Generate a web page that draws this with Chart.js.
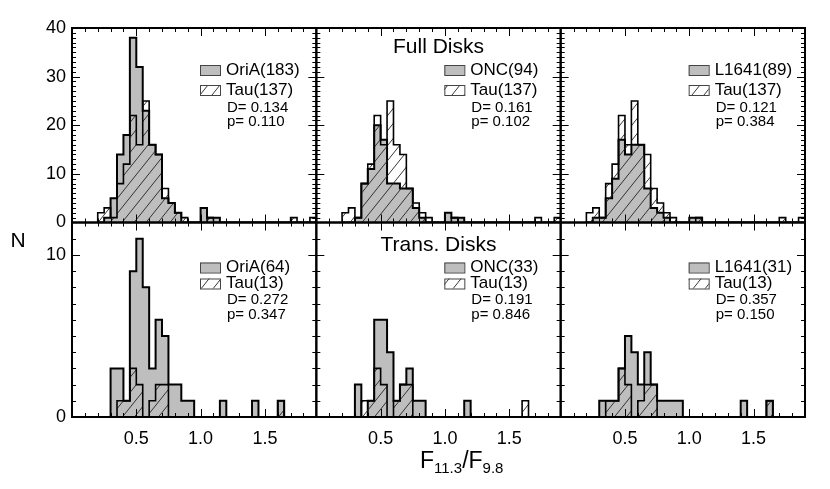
<!DOCTYPE html>
<html>
<head>
<meta charset="utf-8">
<script src="https://cdn.jsdelivr.net/npm/chart.js@4.4.1/dist/chart.umd.min.js"></script>
<style>
html,body{margin:0;padding:0;background:#fff;}
#wrap{position:relative;width:830px;height:489px;}
canvas{display:block;}
</style>
</head>
<body>
<div id="wrap"><canvas id="c" width="830" height="489"></canvas></div>
<script>
// ---------------- DATA ----------------
// left edges of histogram bins (bin width 0.05) in F11.3/F9.8
const binLeft = [0.20,0.25,0.30,0.35,0.40,0.45,0.50,0.55,0.60,0.65,0.70,0.75,0.80,0.85,0.90,0.95,
                 1.00,1.05,1.10,1.15,1.20,1.25,1.30,1.35,1.40,1.45,1.50,1.55,1.60,1.65,1.70,1.75,1.80,1.85];
const binWidth = 0.05;

// Full disks (top row)
const tauFull   = [2,3,1,8,12,22,16,25,16,14,7,4,2,1,0,0, 0,1,0,0,0,0,0,0,0,0,0,0,0,0,1,0,0,1];
const oriaFull  = [0,1,5,14,18,38,32,23,16,14,5,4,2,0,0,0, 3,1,1,0,0,0,0,0,0,0,0,0,0,0,0,0,0,0];
const oncFull   = [0,0,1,8,11,20,17,8,8,7,7,3,1,0,0,0, 2,1,1,0,0,0,0,0,0,0,0,0,0,0,0,0,0,0];
const l1641Full = [0,1,1,5,9,17,14,16,16,7,3,2,1,0,0,0, 1,1,0,0,0,0,0,0,0,0,0,0,0,0,0,0,0,0];

// Transition disks (bottom row)
const tauTrans   = [0,0,0,1,1,3,2,0,1,2,2,0,0,0,0,0, 0,0,0,0,0,0,0,0,0,0,0,0,1,0,0,0,0,0];
const oriaTrans  = [0,0,3,3,1,9,11,8,3,6,5,2,2,1,1,0, 0,0,0,1,0,0,0,0,1,0,0,0,1,0,0,0,0,0];
const oncTrans   = [0,0,2,0,1,6,6,4,1,2,3,1,1,0,0,0, 0,0,0,1,0,0,0,0,0,0,0,0,0,0,0,0,0,0];
const l1641Trans = [0,0,1,1,1,3,5,4,2,4,2,1,1,1,1,0, 0,0,0,0,0,0,0,0,1,0,0,0,1,0,0,0,0,0];

// legend / statistics text
const grayNames = [["OriA(183)","ONC(94)","L1641(89)"],["OriA(64)","ONC(33)","L1641(31)"]];
const tauNames  = ["Tau(137)","Tau(13)"];
const dStats    = [["0.134","0.161","0.121"],["0.272","0.191","0.357"]];
const pStats    = [["0.110","0.102","0.384"],["0.347","0.846","0.150"]];
const rowTitles = ["Full Disks","Trans. Disks"];

// axes
const xRange = [0, 1.9];
const xTickValues = [0.5, 1.0, 1.5];
const yRanges = [[0, 40],[0, 12]];
const yTickValues = [[0,10,20,30,40],[0,10]];
const yMinorStep = [1, 1];

// ---------------- CHART ----------------
const FONT = "'Liberation Sans', Arial, Helvetica, sans-serif";
Chart.defaults.font.family = FONT;
Chart.defaults.color = '#000';
const GRAY = '#bebebe';

const canvas = document.getElementById('c');
const ctx0 = canvas.getContext('2d');

function makeHatchCanvas(bg){
  const w = 12, h = 15;
  const c = document.createElement('canvas'); c.width = w; c.height = h;
  const g = c.getContext('2d');
  if (bg){ g.fillStyle = bg; g.fillRect(0,0,w,h); }
  g.strokeStyle = '#222'; g.lineWidth = 0.9;
  for (let k=-1;k<=1;k++){ g.beginPath(); g.moveTo(k*w, h); g.lineTo(k*w+w, 0); g.stroke(); }
  return c;
}
const hatch = ctx0.createPattern(makeHatchCanvas(null), 'repeat');
const hatchWhite = ctx0.createPattern(makeHatchCanvas('#fff'), 'repeat');

function steps(counts){
  const pts = [{x: binLeft[0], y: 0}];
  counts.forEach((c,i)=>pts.push({x: binLeft[i], y: c}));
  pts.push({x: binLeft[binLeft.length-1] + binWidth, y: 0});
  return pts;
}

const colIds = ['xL','xM','xR'];
const rowIds = ['yT','yB'];
const grayRows = [[oriaFull, oncFull, l1641Full],[oriaTrans, oncTrans, l1641Trans]];
const tauRows = [tauFull, tauTrans];

const datasets = [];
rowIds.forEach((yid, r)=>{
  colIds.forEach((xid, c)=>{
    datasets.push({
      type:'line', label: tauNames[r], data: steps(tauRows[r]), xAxisID: xid, yAxisID: yid,
      stepped: true, borderColor:'#000', borderWidth: 1.6, pointRadius: 0, tension: 0,
      fill: 'origin', backgroundColor: hatch, order: 1
    });
    datasets.push({
      type:'line', label: grayNames[r][c], data: steps(grayRows[r][c]), xAxisID: xid, yAxisID: yid,
      stepped: true, borderColor:'#000', borderWidth: 2, pointRadius: 0, tension: 0,
      fill: 'origin', backgroundColor: GRAY, order: 2
    });
  });
});

function xScale(){
  return {
    type:'linear', position:'bottom', stack:'cols', stackWeight:1,
    min: xRange[0], max: xRange[1],
    grid:{display:false, drawTicks:false}, border:{display:false},
    ticks:{font:{size:18}, color:'#000', padding:11, autoSkip:false, maxRotation:0,
           callback:(v)=>Number(v).toFixed(1)},
    afterBuildTicks:(s)=>{ s.ticks = xTickValues.map(v=>({value:v})); },
    afterFit:(s)=>{ s.height = 72; }
  };
}
function yScale(r){
  return {
    type:'linear', position:'left', stack:'rows', stackWeight:1, weight: 2 - r,
    min: yRanges[r][0], max: yRanges[r][1],
    grid:{display:false, drawTicks:false}, border:{display:false},
    ticks:{font:{size:18}, color:'#000', padding:6, autoSkip:false,
           callback:(v)=>String(v)},
    afterBuildTicks:(s)=>{ s.ticks = yTickValues[r].map(v=>({value:v})); },
    afterFit:(s)=>{ s.width = 72; }
  };
}

const decor = {
  id:'decor',
  afterDraw(chart){
    const ctx = chart.ctx;
    ctx.save();
    ctx.strokeStyle = '#000';
    rowIds.forEach((yid, r)=>{
      const ys = chart.scales[yid];
      colIds.forEach((xid, c)=>{
        const xs = chart.scales[xid];
        const L = xs.left, R = xs.right, T = ys.top, B = ys.bottom;
        ctx.lineWidth = 1;
        ctx.beginPath();
        // x ticks (every 0.1, majors at labelled values), top and bottom, inward
        for (let k=1; k<19; k++){
          const v = k/10;
          const px = Math.round(xs.getPixelForValue(v)) + 0.5;
          const major = xTickValues.some(t=>Math.abs(t-v)<1e-9);
          const len = major ? 8 : 4;
          ctx.moveTo(px, B); ctx.lineTo(px, B-len);
          ctx.moveTo(px, T); ctx.lineTo(px, T+len);
        }
        // y ticks left and right, inward
        const [y0, y1] = yRanges[r];
        for (let v=y0+yMinorStep[r]; v<y1; v+=yMinorStep[r]){
          const py = Math.round(ys.getPixelForValue(v)) + 0.5;
          const major = yTickValues[r].includes(v);
          const len = major ? 8 : 4;
          ctx.moveTo(L, py); ctx.lineTo(L+len, py);
          ctx.moveTo(R, py); ctx.lineTo(R-len, py);
        }
        ctx.stroke();
        ctx.lineWidth = 2;
        ctx.strokeRect(L, T, R-L, B-T);

        // legend
        const lx = L + 128;
        const rowY = r === 0 ? [T+42, T+62, T+80, T+94] : [T+45, T+61, T+77, T+92];
        ctx.lineWidth = 1;
        ctx.fillStyle = GRAY; ctx.fillRect(lx, rowY[0]-5, 20, 10);
        ctx.strokeStyle = '#444'; ctx.strokeRect(lx+0.5, rowY[0]-5+0.5, 20, 10);
        ctx.fillStyle = hatchWhite; ctx.fillRect(lx, rowY[1]-5, 20, 10);
        ctx.strokeRect(lx+0.5, rowY[1]-5+0.5, 20, 10);
        ctx.strokeStyle = '#000';
        ctx.fillStyle = '#000';
        ctx.textBaseline = 'middle'; ctx.textAlign = 'left';
        ctx.font = `17px ${FONT}`;
        ctx.fillText(grayNames[r][c], L+154, rowY[0]);
        ctx.fillText(tauNames[r], L+154, rowY[1]);
        ctx.font = `15px ${FONT}`;
        ctx.fillText('D= ' + dStats[r][c], L+155, rowY[2]);
        ctx.fillText('p= ' + pStats[r][c], L+155, rowY[3]);
        if (c === 1){
          ctx.font = `21px ${FONT}`; ctx.textAlign = 'center';
          ctx.fillText(rowTitles[r], (L+R)/2, r===0 ? T+19 : T+23);
        }
      });
    });
    // y axis title
    ctx.font = `21px ${FONT}`; ctx.textAlign = 'center'; ctx.textBaseline = 'middle';
    ctx.fillText('N', 18, 241);
    // x axis title F11.3/F9.8
    ctx.textAlign = 'left'; ctx.textBaseline = 'alphabetic';
    let x = 420; const base = 468;
    const big = `23px ${FONT}`, small = `15px ${FONT}`;
    ctx.font = big; ctx.fillText('F', x, base); x += ctx.measureText('F').width;
    ctx.font = small; ctx.fillText('11.3', x, base+5); x += ctx.measureText('11.3').width;
    ctx.font = big; ctx.fillText('/F', x, base); x += ctx.measureText('/F').width;
    ctx.font = small; ctx.fillText('9.8', x, base+5);
    ctx.restore();
  }
};

new Chart(canvas, {
  type:'line',
  data:{ datasets },
  options:{
    responsive:false, animation:false, devicePixelRatio:1,
    layout:{ padding:{ top:28, right:25, left:0, bottom:0 } },
    plugins:{ legend:{display:false}, tooltip:{enabled:false} },
    scales:{ xL:xScale(), xM:xScale(), xR:xScale(), yT:yScale(0), yB:yScale(1) }
  },
  plugins:[decor]
});
</script>
</body>
</html>
